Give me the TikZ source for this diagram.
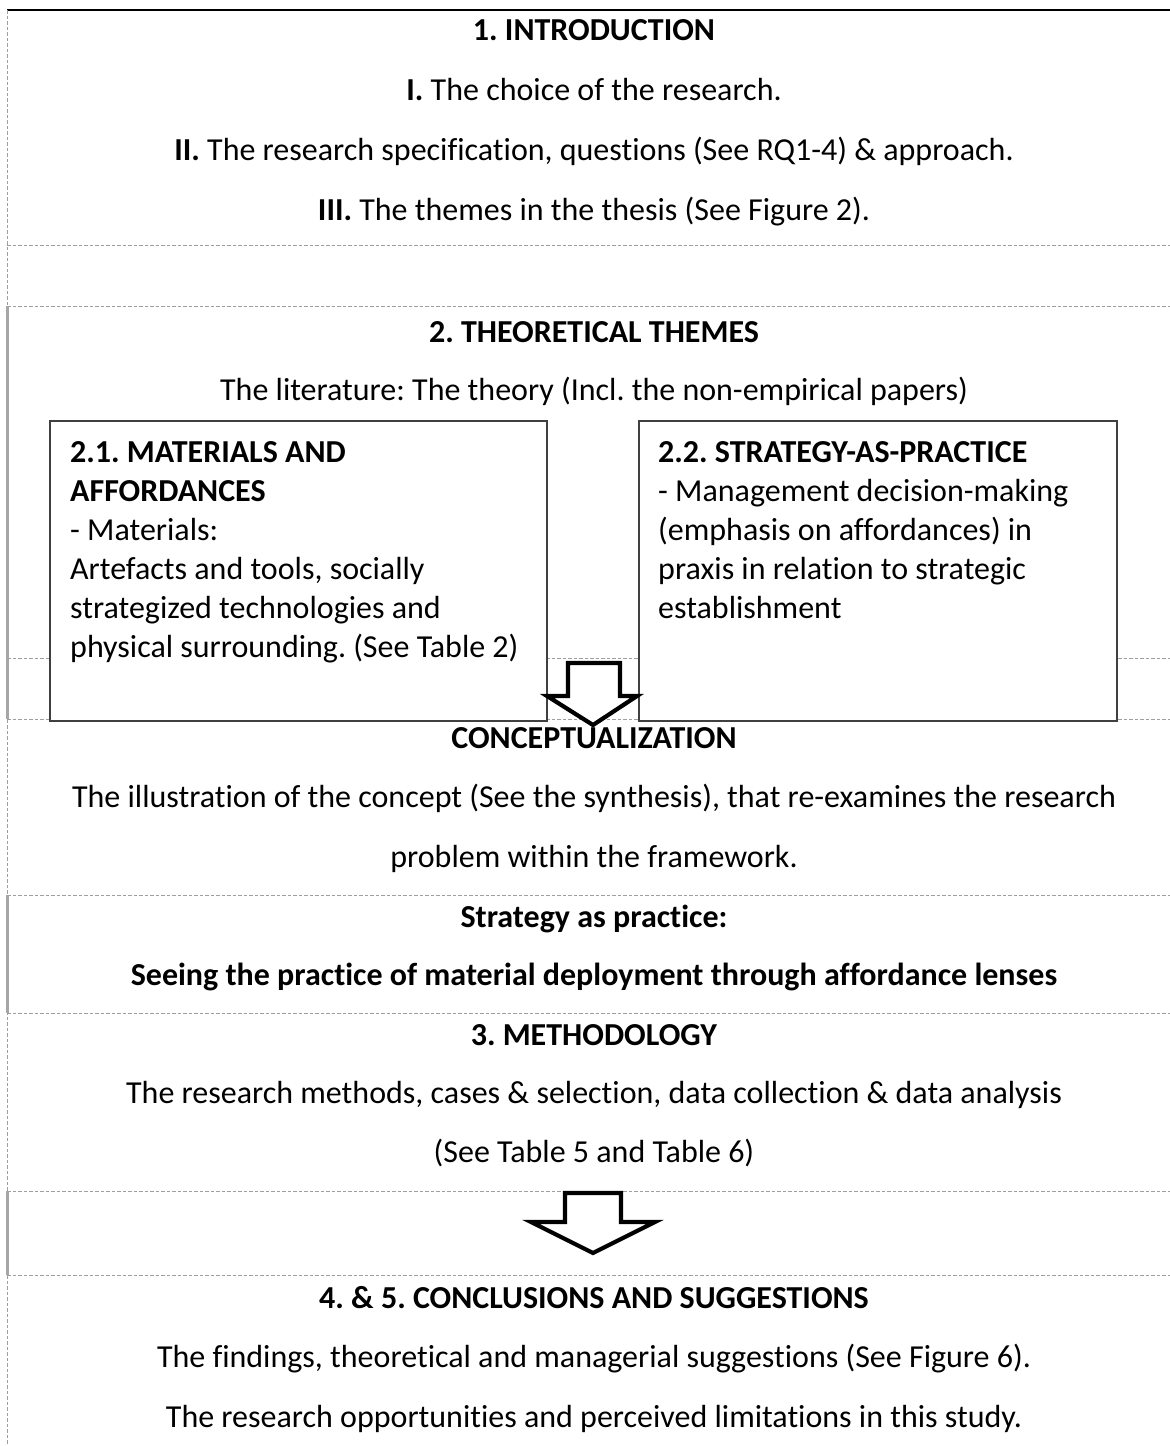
\documentclass[tikz,border=0pt]{standalone}
\usepackage{fontspec}
\setmainfont{Carlito}[Ligatures=NoCommon]
\frenchspacing
\begin{document}
\begin{tikzpicture}[x=1pt,y=-1pt,
  dashln/.style={draw=black!38, line width=0.9pt, dash pattern=on 3.5pt off 2pt},
  graybar/.style={draw=black!35, line width=3.5pt},
  boxx/.style={draw=black!75, line width=1.6pt, fill=none, inner sep=0pt},
  ln/.style={font=\fontsize{32}{39}\selectfont, inner sep=0pt, anchor=base},
  lnl/.style={font=\fontsize{32}{39}\selectfont, inner sep=0pt, anchor=base west},
  bigarrow/.style={draw=black, line width=4.2pt, fill=white, line join=miter}
]
\useasboundingbox (0,0) rectangle (1170,1446);
\fill[white] (0,0) rectangle (1170,1446);
\def\cx{594}

% frame lines
\draw[black, line width=2.2pt] (7,10) -- (1170,10);
\draw[dashln] (7,10) -- (7,1446);
\draw[dashln] (7,245) -- (1170,245);
\draw[dashln] (7,306) -- (1170,306);
\draw[dashln] (7,658) -- (1170,658);
\draw[dashln] (7,719) -- (1170,719);
\draw[dashln] (7,895) -- (1170,895);
\draw[dashln] (7,1013) -- (1170,1013);
\draw[dashln] (7,1191) -- (1170,1191);
\draw[dashln] (7,1275) -- (1170,1275);
\draw[graybar] (7.5,306) -- (7.5,719);
\draw[graybar] (7.5,895) -- (7.5,1013);
\draw[graybar] (7.5,1191) -- (7.5,1275);

% boxes
\node[boxx, fill=white, minimum width=497pt, minimum height=300pt, anchor=north west] (b21) at (49,420) {};
\node[boxx, fill=white, minimum width=478pt, minimum height=300pt, anchor=north west] (b22) at (638,420) {};

% section 1
\node[ln] (t1) at (\cx,40) {\textbf{1. INTRODUCTION}};
\node[ln] (t1a) at (\cx,100) {\textbf{I.} The choice of the research.};
\node[ln] (t1b) at (\cx,160) {\textbf{II.} The research specification, questions (See RQ1-4) \& approach.};
\node[ln] (t1c) at (\cx,220) {\textbf{III.} The themes in the thesis (See Figure 2).};

% section 2
\node[ln] (t2) at (\cx,342) {\textbf{2. THEORETICAL THEMES}};
\node[ln] (t2a) at (\cx,400) {The literature: The theory (Incl. the non-empirical papers)};

\node[lnl] (a1) at (70,462) {\textbf{2.1. MATERIALS AND}};
\node[lnl] (a2) at (70,501) {\textbf{AFFORDANCES}};
\node[lnl] (a3) at (70,540) {- Materials:};
\node[lnl] (a4) at (70,579) {Artefacts and tools, socially};
\node[lnl] (a5) at (70,618) {strategized technologies and};
\node[lnl] (a6) at (70,657) {physical surrounding. (See Table 2)};

\node[lnl] (s1) at (658,462) {\textbf{2.2. STRATEGY-AS-PRACTICE}};
\node[lnl] (s2) at (658,501) {- Management decision-making};
\node[lnl] (s3) at (658,540) {(emphasis on affordances) in};
\node[lnl] (s4) at (658,579) {praxis in relation to strategic};
\node[lnl] (s5) at (658,618) {establishment};

% arrow 1
\draw[bigarrow] (568,663) -- (620,663) -- (620,696) -- (637,696) -- (593,725) -- (547,696) -- (568,696) -- cycle;

% conceptualization
\node[ln] (c1) at (\cx,748) {\textbf{CONCEPTUALIZATION}};
\node[ln] (c2) at (\cx,807) {The illustration of the concept (See the synthesis), that re-examines the research};
\node[ln] (c3) at (\cx,867) {problem within the framework.};

\node[ln] (p1) at (\cx,927) {\textbf{Strategy as practice:}};
\node[ln] (p2) at (\cx,985) {\textbf{Seeing the practice of material deployment through affordance lenses}};

% section 3
\node[ln] (m1) at (\cx,1045) {\textbf{3. METHODOLOGY}};
\node[ln] (m2) at (\cx,1103) {The research methods, cases \& selection, data collection \& data analysis};
\node[ln] (m3) at (\cx,1162) {(See Table 5 and Table 6)};

% arrow 2
\draw[bigarrow] (565,1193) -- (621,1193) -- (621,1222) -- (655,1222) -- (593,1253) -- (531,1222) -- (565,1222) -- cycle;

% section 4&5
\node[ln] (f1) at (\cx,1308) {\textbf{4. \& 5. CONCLUSIONS AND SUGGESTIONS}};
\node[ln] (f2) at (\cx,1367) {The findings, theoretical and managerial suggestions (See Figure 6).};
\node[ln] (f3) at (\cx,1427) {The research opportunities and perceived limitations in this study.};
\end{tikzpicture}
\end{document}
